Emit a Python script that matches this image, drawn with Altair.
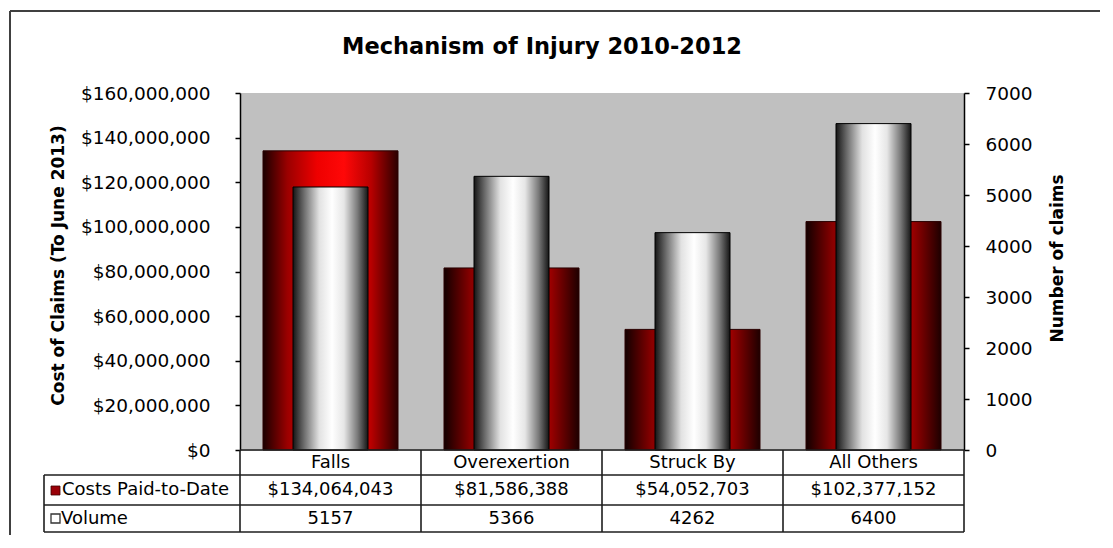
import altair as alt
import pandas as pd

# ---- data ----
categories = ["Falls", "Overexertion", "Struck By", "All Others"]
costs = [134064043, 81586388, 54052703, 102377152]
volume = [5157, 5366, 4262, 6400]
series_names = ["Costs Paid-to-Date", "Volume"]
title_text = "Mechanism of Injury 2010-2012"
left_title = "Cost of Claims (To June 2013)"
right_title = "Number of claims"
cost_ticks = [0, 20000000, 40000000, 60000000, 80000000, 100000000, 120000000, 140000000, 160000000]
vol_ticks = [0, 1000, 2000, 3000, 4000, 5000, 6000, 7000]

df = pd.DataFrame({"cat": categories, "cost": costs, "vol": volume})
one = pd.DataFrame({"k": [0]})

W, H = 724, 357
PAD_R = 136
PAD_B = 85
FONT = "DejaVu Sans"
LINE = "#1e1e1e"

xscale = alt.Scale(paddingInner=0, paddingOuter=0)


def xenc(**kw):
    return alt.X("cat:N", sort=categories, scale=xscale, axis=None, **kw)


def stops(pairs):
    return [{"offset": o, "color": c} for o, c in pairs]


grad_falls = {"gradient": "linear", "x1": 0, "x2": 1, "y1": 0, "y2": 0,
              "stops": stops([(0, "#1a0000"), (0.18, "#9a0000"), (0.4, "#ee0000"),
                              (0.6, "#ff0808"), (0.8, "#b80000"), (1, "#2a0000")])}
grad_red = {"gradient": "linear", "x1": 0, "x2": 1, "y1": 0, "y2": 0,
            "stops": stops([(0, "#120000"), (0.2, "#8a0000"), (0.5, "#b00000"),
                            (0.78, "#a00000"), (1, "#1e0000")])}
grad_white = {"gradient": "linear", "x1": 0, "x2": 1, "y1": 0, "y2": 0,
              "stops": stops([(0, "#151515"), (0.15, "#6e6e6e"), (0.35, "#e2e2e2"),
                              (0.52, "#ffffff"), (0.68, "#e6e6e6"), (0.86, "#7a7a7a"),
                              (1, "#151515")])}

red = alt.Chart(df).mark_bar(width=135, stroke="#2a0000", strokeWidth=1).encode(
    x=xenc(),
    y=alt.Y("cost:Q", scale=alt.Scale(domain=[0, 160000000], nice=False),
            axis=alt.Axis(values=cost_ticks, format="$,.0f", title=left_title,
                          labelPadding=25, titleX=-182, titleY=172, titleAngle=-90,
                          titleBaseline="middle", titleAlign="center")),
    fill=alt.condition("datum.cat == 'Falls'", alt.value(grad_falls), alt.value(grad_red)),
)

white = alt.Chart(df).mark_bar(width=75, stroke="black", strokeWidth=1, fill=grad_white).encode(
    x=xenc(),
    y=alt.Y("vol:Q", scale=alt.Scale(domain=[0, 7000], nice=False),
            axis=alt.Axis(orient="right", values=vol_ticks, format="d", title=right_title,
                          labelPadding=16, titleX=93, titleY=165, titleAngle=-90,
                          titleBaseline="middle", titleAlign="center")),
)

txt = dict(font=FONT, fontSize=18, color="black", baseline="middle")

header = alt.Chart(df).mark_text(**txt).encode(x=xenc(), y=alt.value(369.5), text="cat:N")
cost_txt = alt.Chart(df).mark_text(**txt).encode(
    x=xenc(), y=alt.value(397), text=alt.Text("cost:Q", format="$,.0f"))
vol_txt = alt.Chart(df).mark_text(**txt).encode(
    x=xenc(), y=alt.value(425.5), text=alt.Text("vol:Q", format="d"))

vlines = alt.Chart(df).mark_rule(color=LINE, strokeWidth=1.6).encode(
    x=xenc(bandPosition=0), y=alt.value(H), y2=alt.value(439))


def rule(x, x2, y, y2, color=LINE, w=1.6):
    return alt.Chart(one).mark_rule(color=color, strokeWidth=w).encode(
        x=alt.value(x), x2=alt.value(x2), y=alt.value(y), y2=alt.value(y2))


table_rules = [
    rule(0, W, H, H),
    rule(-196, W, 382, 382),
    rule(-196, W, 412, 412),
    rule(-196, W, 439, 439),
    rule(W, W, H, 439),
    rule(-196, -196, 382, 439),
]

frame = [
    rule(-230, W + PAD_R, -82, -82, color="#404040", w=2),
    rule(-230, -230, -82, H + PAD_B, color="#404040", w=2),
]

row_labels = [
    alt.Chart(one).mark_text(font=FONT, fontSize=18, color="black", baseline="middle",
                             align="left").encode(x=alt.value(-178), y=alt.value(397),
                                                  text=alt.value(series_names[0])),
    alt.Chart(one).mark_text(font=FONT, fontSize=18, color="black", baseline="middle",
                             align="left").encode(x=alt.value(-179), y=alt.value(425.5),
                                                  text=alt.value(series_names[1])),
]

swatches = [
    alt.Chart(one).mark_rect(fill="#9a0008", stroke="#400000", strokeWidth=0.8).encode(
        x=alt.value(-189), x2=alt.value(-180), y=alt.value(393), y2=alt.value(402)),
    alt.Chart(one).mark_rect(fill="white", stroke="#333333", strokeWidth=1.3).encode(
        x=alt.value(-189), x2=alt.value(-180), y=alt.value(421), y2=alt.value(430)),
]

title = alt.Chart(one).mark_text(font=FONT, fontSize=22.5, fontWeight="bold", color="black",
                                 baseline="middle", align="center").encode(
    x=alt.value(302), y=alt.value(-46), text=alt.value(title_text))

chart = alt.layer(
    red, white, header, cost_txt, vol_txt, vlines, *table_rules, *frame,
    *row_labels, *swatches, title
).resolve_scale(y="independent").properties(
    width=W, height=H,
    padding={"left": 232, "top": 85, "right": PAD_R, "bottom": PAD_B},
    autosize=alt.AutoSizeParams(type="none"),
    background="white",
).configure_view(fill="#c0c0c0", stroke="#c0c0c0").configure_axis(
    labelFont=FONT, labelFontSize=18.5, labelColor="black",
    domainColor="black", domainWidth=1.5, tickColor="black", tickSize=5, tickWidth=1.5,
    titleFont=FONT, titleFontSize=17, titleFontWeight="bold", titleColor="black",
    grid=False,
)

chart.save("out.html", embed_options={"renderer": "svg", "actions": False})
